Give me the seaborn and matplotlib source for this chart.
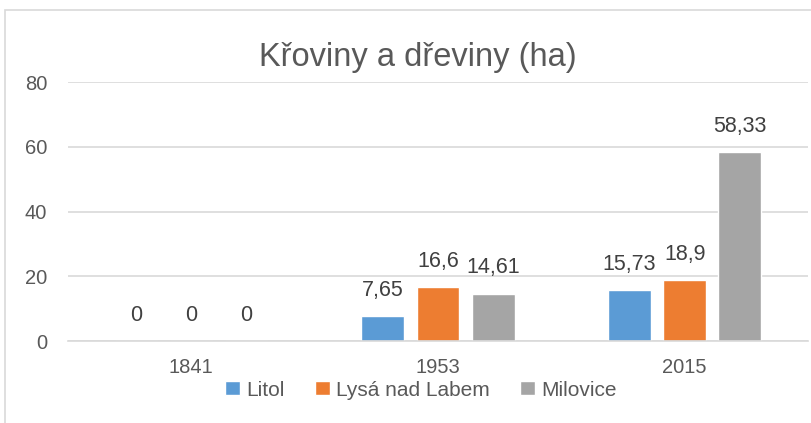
import matplotlib
matplotlib.use("Agg")
import matplotlib.pyplot as plt
import pandas as pd
import seaborn as sns
from matplotlib.patches import Rectangle

# data
years = ["1841", "1953", "2015"]
litol = [0, 7.65, 15.73]
lysa = [0, 16.6, 18.9]
milovice = [0, 14.61, 58.33]
series_names = ["Litol", "Lysá nad Labem", "Milovice"]
colors = ["#5B9BD5", "#ED7D31", "#A5A5A5"]
y_ticks = [0, 20, 40, 60, 80]

sns.set_theme(style="white")
plt.rcParams["font.family"] = ["Liberation Sans", "DejaVu Sans"]

df = pd.DataFrame({
    "year": years * 3,
    "value": litol + lysa + milovice,
    "series": [s for s in series_names for _ in years],
})

fig = plt.figure(figsize=(8.11, 4.23), dpi=100)
ax = fig.add_axes([68 / 811, 1 - 341 / 423, 740 / 811, 259 / 423])

sns.barplot(data=df, x="year", y="value", hue="series", hue_order=series_names,
            palette=colors, width=0.67, gap=0.22, ax=ax, legend=True,
            saturation=1)

ax.set_ylim(0, 80)
ax.set_yticks(y_ticks)
ax.set_xlabel("")
ax.set_ylabel("")
ax.grid(axis="y", color="#D9D9D9", linewidth=1.2)
ax.set_axisbelow(True)
for side in ["top", "right", "left"]:
    ax.spines[side].set_visible(False)
ax.spines["bottom"].set_color("#D9D9D9")
ax.spines["bottom"].set_linewidth(1.2)
ax.tick_params(axis="both", length=0, colors="#595959", labelsize=14.5)
ax.tick_params(axis="x", pad=12)
ax.tick_params(axis="y", pad=15)

for container in ax.containers:
    labels = [f"{v:g}".replace(".", ",") for v in container.datavalues]
    ax.bar_label(container, labels=labels, padding=11, fontsize=15.5, color="#404040")

# title centred on the whole chart area, like Excel does
fig.text(418 / 811, 1 - 66 / 423, "Křoviny a dřeviny (ha)", fontsize=23.5,
         color="#595959", ha="center", va="baseline")

handles, lbls = ax.get_legend_handles_labels()
ax.legend(handles, lbls, loc="center", bbox_to_anchor=(421 / 811, 1 - 390 / 423),
          bbox_transform=fig.transFigure, ncol=3, frameon=False, fontsize=15,
          handlelength=0.72, handleheight=0.68, handletextpad=0.3, columnspacing=1.45,
          labelcolor="#595959", borderaxespad=0, borderpad=0)

# chart border
fig.patches.append(Rectangle((5 / 811, -0.01), 1.0, 1 - 10 / 423 + 0.01,
                             transform=fig.transFigure, fill=False,
                             edgecolor="#D9D9D9", linewidth=1.2))

fig.savefig("out.png", dpi=100)
